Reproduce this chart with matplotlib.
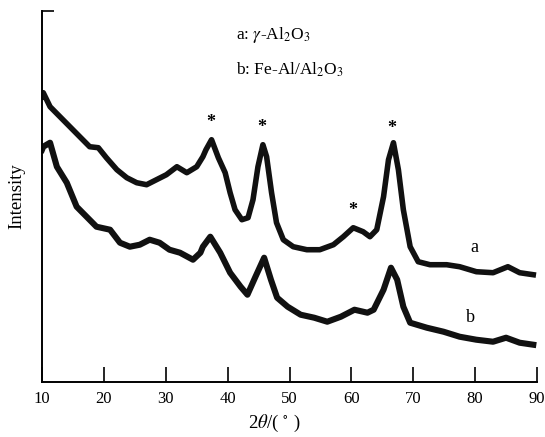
import matplotlib
matplotlib.use("Agg")
import matplotlib.pyplot as plt

# XRD patterns, values (arbitrary intensity units)
plt.rcParams['font.family'] = ['Liberation Serif', 'DejaVu Serif']
plt.rcParams['mathtext.fontset'] = 'stix'

theta_a = [10.0, 10.2, 11.3, 12.9, 14.5, 16.1, 17.7, 19.1, 20.4, 22.1, 23.7, 25.3, 26.9,
           28.5, 30.1, 31.8, 33.4, 35.0, 36.0, 36.5, 37.4, 38.5, 39.6, 40.4, 41.2,
           42.3, 43.3, 44.1, 44.9, 45.7, 46.3, 47.1, 47.9, 49.0, 50.6, 52.8, 54.9,
           57.1, 58.7, 60.3, 61.9, 63.0, 64.1, 65.2, 66.0, 66.8, 67.6, 68.4, 69.5,
           70.8, 72.7, 75.4, 77.5, 80.2, 82.9, 85.3, 87.2, 89.4]
int_a = [285, 289, 275, 265, 255, 245, 235, 234, 224, 212, 204, 199, 197,
         202, 207, 215, 209, 215, 225, 232, 242, 224, 209, 189, 172,
         162, 164, 182, 215, 237, 225, 189, 159, 142, 135, 132, 132,
         137, 145, 154, 150, 145, 152, 185, 222, 239, 212, 172, 135,
         120, 117, 117, 115, 110, 109, 115, 109, 107]

theta_b = [10.0, 10.2, 11.3, 12.4, 14.0, 15.6, 17.2, 18.8, 21.0, 22.6, 24.2, 25.8, 27.4,
           29.0, 30.6, 32.3, 34.4, 35.6, 36.0, 37.2, 38.8, 40.4, 42.1, 43.2, 44.5,
           45.9, 47.0, 48.0, 49.7, 51.8, 54.0, 56.1, 58.3, 60.5, 62.6, 63.6, 65.2,
           66.4, 67.4, 68.4, 69.5, 72.2, 74.9, 77.5, 80.2, 82.9, 85.0, 87.2, 89.4]
int_b = [232, 235, 239, 215, 199, 175, 165, 155, 152, 139, 135, 137, 142,
         139, 132, 129, 122, 129, 135, 145, 129, 109, 95, 87, 105,
         124, 102, 84, 75, 67, 64, 60, 65, 72, 69, 72, 92,
         114, 102, 75, 59, 54, 50, 45, 42, 40, 44, 39, 37]

star_theta = [37.3, 45.5, 60.3, 66.6]
star_int = [259, 254, 171, 253]

fig = plt.figure(figsize=(5.45, 4.37), dpi=100)
ax = fig.add_axes([0.0771, 0.1265, 0.9082, 0.8483])

ax.plot(theta_a, int_a, color='#111111', lw=4.0, solid_joinstyle='round')
ax.plot(theta_b, int_b, color='#111111', lw=4.4, solid_joinstyle='round')

for t, s in zip(star_theta, star_int):
    ax.text(t, s, '*', ha='center', va='center', fontsize=13, fontweight='bold')

ax.text(79.8, 134, 'a', ha='center', va='center', fontsize=13)
ax.text(79.3, 64, 'b', ha='center', va='center', fontsize=13)

ax.text(0.392, 0.935, r'a: $\gamma$-Al$_2$O$_3$', transform=ax.transAxes,
        ha='left', va='center', fontsize=12.5)
ax.text(0.392, 0.841, r'b: Fe-Al/Al$_2$O$_3$', transform=ax.transAxes,
        ha='left', va='center', fontsize=12.5)

ax.set_xlim(10, 90)
ax.set_ylim(0, 370.7)
ax.set_xticks(range(10, 91, 10))
ax.set_yticks([370.7])
ax.set_yticklabels([])
ax.tick_params(axis='x', direction='in', length=11, width=1.2, pad=7, labelsize=12)
ax.tick_params(axis='y', direction='in', length=8.5, width=1.2)
for side in ['top', 'right']:
    ax.spines[side].set_visible(False)
for side in ['left', 'bottom']:
    ax.spines[side].set_linewidth(1.4)

ax.set_xlabel(r'2$\theta$/( $^{\circ}$ )', fontsize=13.5)
ax.xaxis.set_label_coords(0.47, -0.083)
ax.set_ylabel('Intensity', fontsize=13.5)
ax.yaxis.set_label_coords(-0.034, 0.5)

fig.savefig('out.png', dpi=100)
